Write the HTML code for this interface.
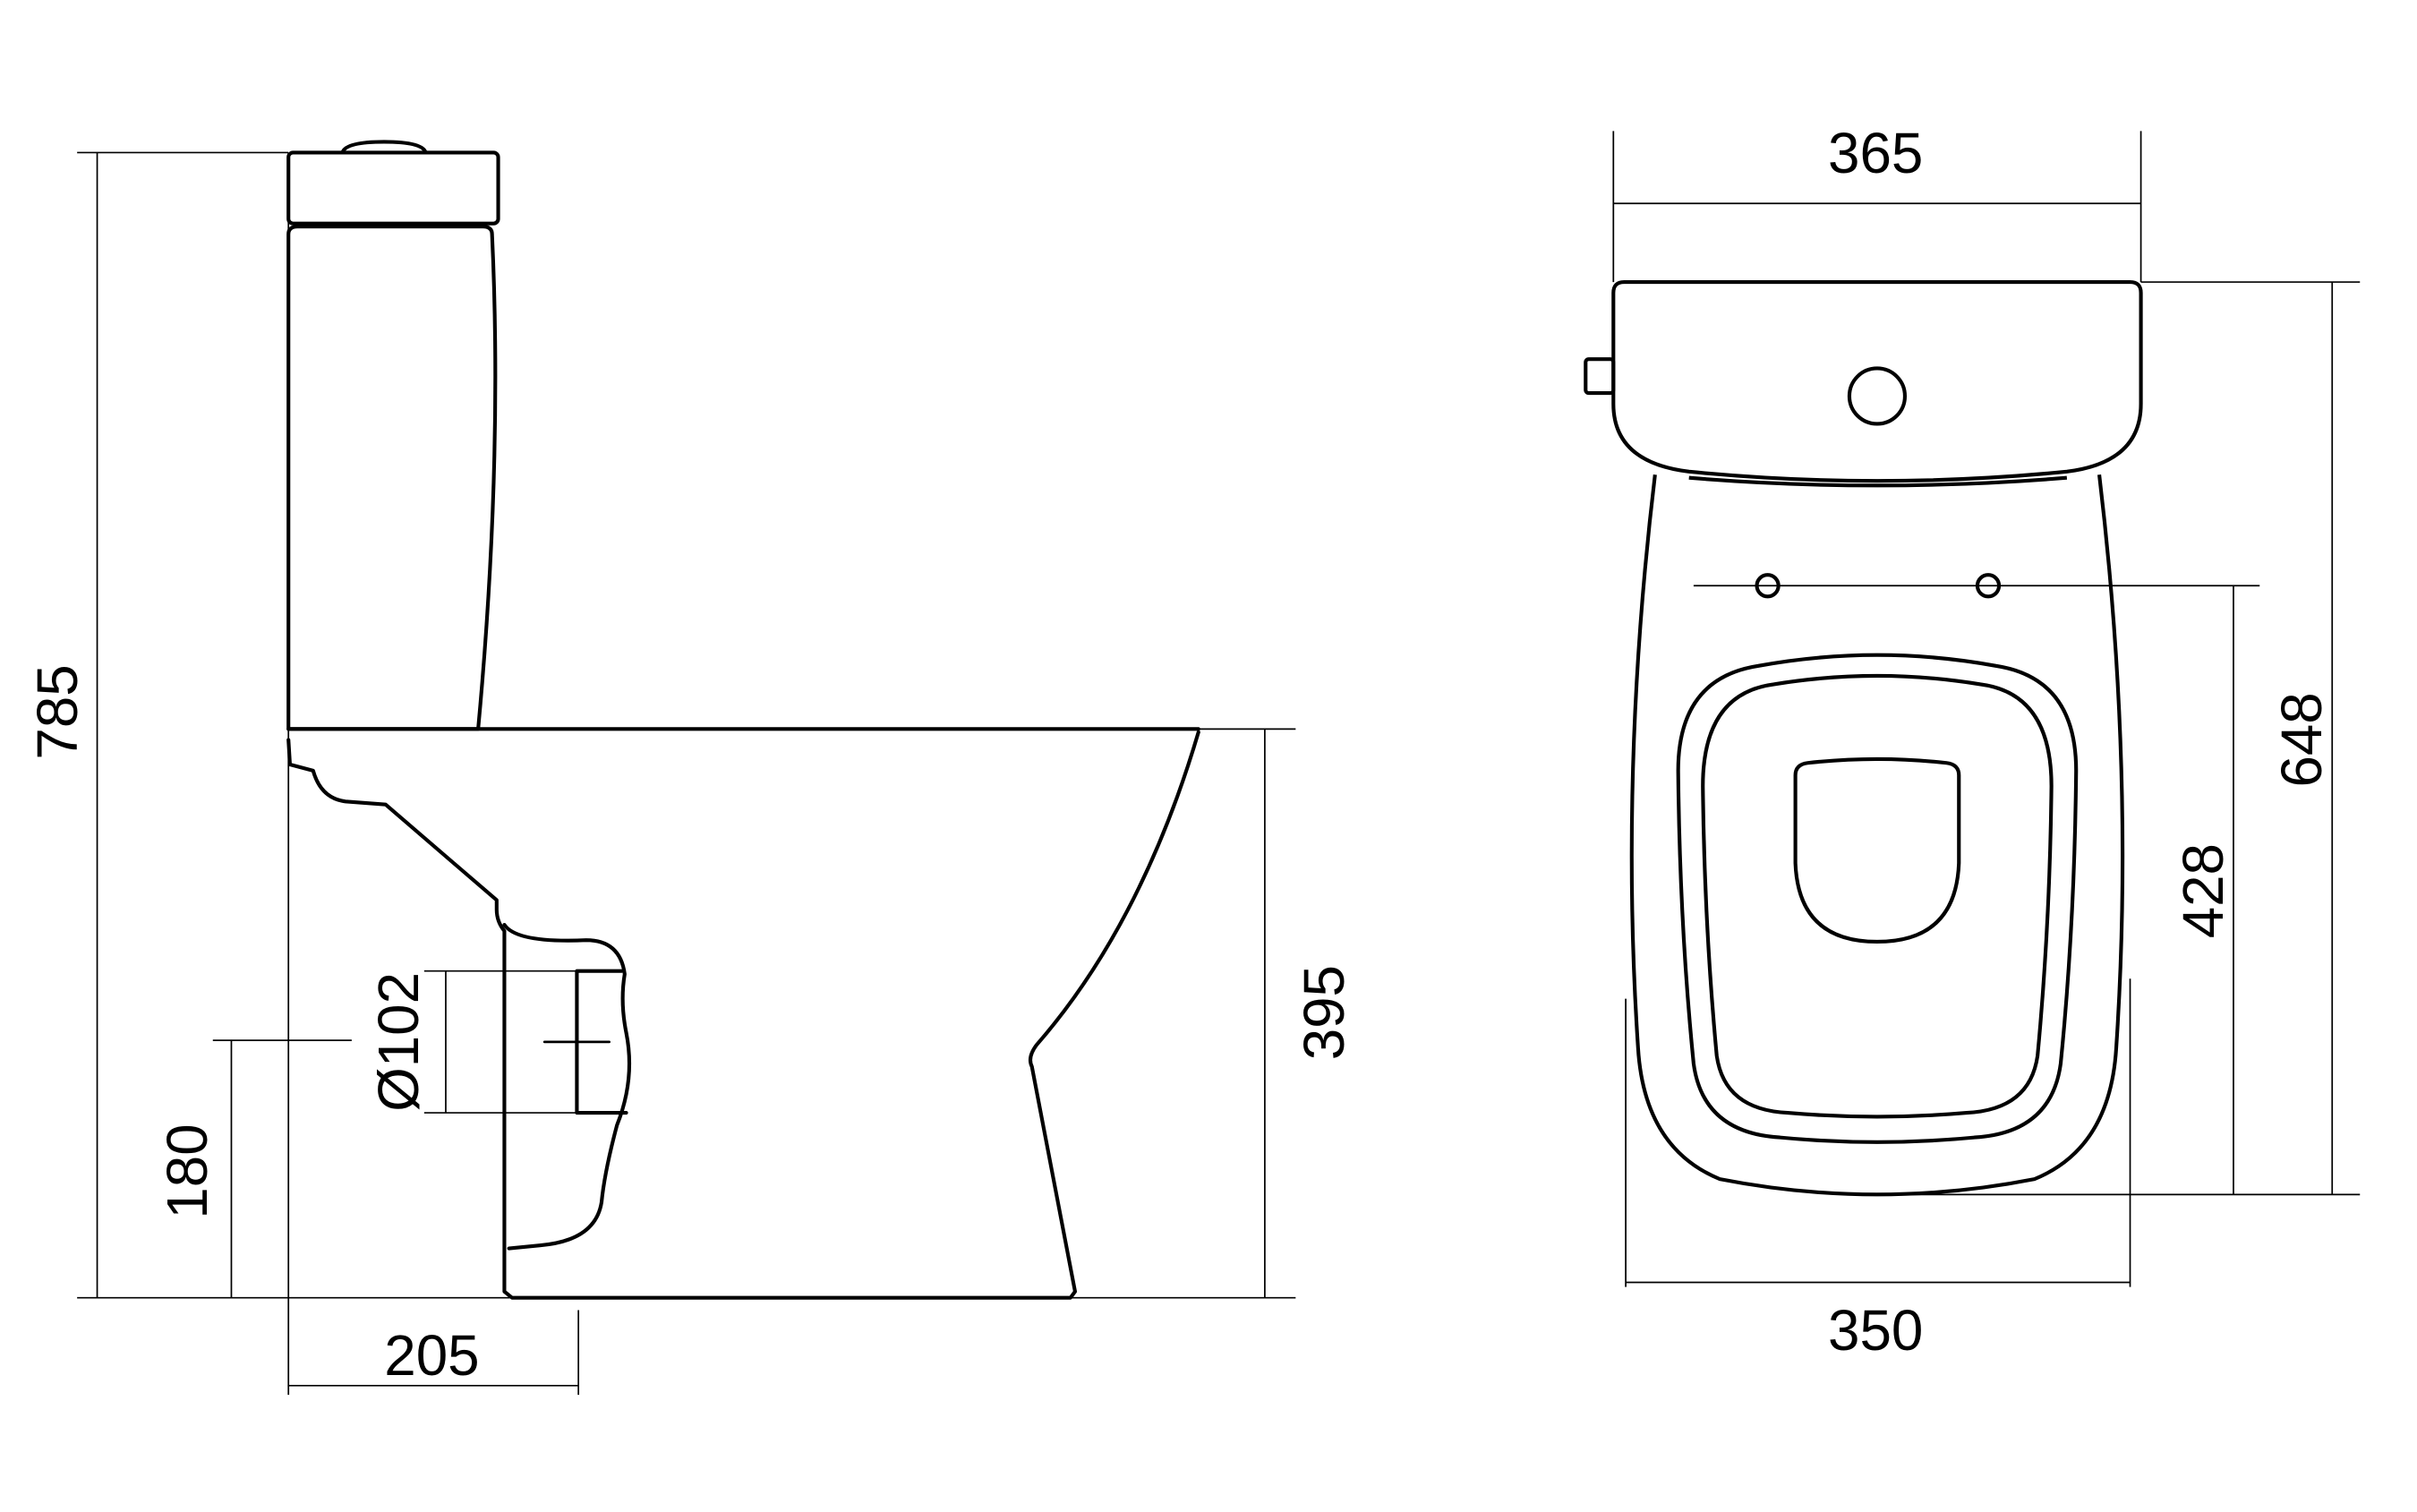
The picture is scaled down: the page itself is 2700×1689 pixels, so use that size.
<!DOCTYPE html>
<html><head><meta charset="utf-8"><style>
html,body{margin:0;padding:0;background:#fff;}
svg{display:block;}
text{font-family:"Liberation Sans","DejaVu Sans",sans-serif;font-size:37px;fill:#000;}
</style></head><body>
<svg width="2700" height="1689" viewBox="0 0 1567 981" preserveAspectRatio="none" xmlns="http://www.w3.org/2000/svg">
<g fill="none" stroke="#000" stroke-width="2.4" stroke-linejoin="round" stroke-linecap="round">
<path d="M222,99 Q224,92 249,92 Q274,92 276,99"/>
<rect x="187" y="99" width="136" height="46" rx="3"/>
<path d="M187,473 L187,152 Q187,147 193,147 L313,147 Q319,147 319,152 Q326,300 310,473 Z"/>
<path d="M187,473 L777,473"/>
<path d="M777,475 Q740,600 672,678 Q666,686 669,692 L697,838 L694,842 L332,842 L327,838 L327,604 Q322,598 322,590 L322,584 L250,522 L224,520 Q208,518 203,500 L188,496 L187,480"/>
<path d="M327,600 Q335,612 380,610 Q402,610 405,632 Q402,650 406,670 Q412,700 400,730 Q392,760 390,780 Q386,805 350,808 L330,810"/>
<path d="M374,630 L403,630 M374,630 L374,722 L406,722"/>
<path d="M353,676 L395,676 M374,662 L374,692" stroke-width="1.6"/>
</g>
<g fill="none" stroke="#000" stroke-width="1">
<path d="M50,99 L187,99 M63,99 L63,842 M50,842 L840,842 M187,99 L187,905"/>
<path d="M138,675 L228,675 M150,675 L150,842"/>
<path d="M275,630 L374,630 M275,722 L374,722 M289,630 L289,722"/>
<path d="M187,899 L375,899 M375,850 L375,905"/>
<path d="M777,473 L840,473 M820,473 L820,842"/>
<path d="M1046,85 L1046,183 M1388,85 L1388,183 M1046,132 L1388,132"/>
<path d="M1388,183 L1530,183 M1512,183 L1512,775 M1217,775 L1530,775"/>
<path d="M1098,380 L1465,380 M1448,380 L1448,775"/>
<path d="M1054,648 L1054,835 M1381,635 L1381,835 M1054,832 L1381,832"/>
</g>
<g fill="none" stroke="#000" stroke-width="2.4" stroke-linejoin="round">
<path d="M1046,190 Q1046,183 1053,183 L1381,183 Q1388,183 1388,190 L1388,262 Q1388,300 1340,306 Q1217,318 1095,306 Q1046,300 1046,262 Z"/>
<rect x="1028" y="233" width="18" height="22" rx="2"/>
<circle cx="1217" cy="257" r="18"/>
<path d="M1095,310 Q1217,320 1340,310"/>
<path d="M1073,308 Q1050,500 1062,680 Q1066,745 1115,765 Q1217,785 1319,765 Q1368,745 1372,680 Q1384,500 1361,308"/>
<path d="M1088,500 Q1088,440 1140,432 Q1217,418 1294,432 Q1346,440 1346,500 Q1345,600 1336,690 Q1330,735 1280,738 Q1217,744 1154,738 Q1104,735 1098,690 Q1089,600 1088,500 Z"/>
<path d="M1104,510 Q1104,450 1150,444 Q1217,433 1284,444 Q1330,450 1330,510 Q1329,600 1321,685 Q1316,720 1275,722 Q1217,727 1159,722 Q1118,720 1113,685 Q1105,600 1104,510 Z"/>
<path d="M1164,503 Q1164,496 1172,495 Q1217,490 1262,495 Q1270,496 1270,503 L1270,560 Q1268,611 1217,611 Q1166,611 1164,560 Z"/>
<circle cx="1146" cy="380" r="7"/>
<circle cx="1289" cy="380" r="7"/>
</g>
<text x="0" y="0" text-anchor="middle" transform="translate(50,462) rotate(-90)">785</text>
<text x="0" y="0" text-anchor="middle" transform="translate(134,760) rotate(-90)">180</text>
<text x="0" y="0" text-anchor="middle" transform="translate(271,676) rotate(-90)">Ø102</text>
<text x="0" y="0" text-anchor="middle" transform="translate(871,657) rotate(-90)">395</text>
<text x="280" y="892" text-anchor="middle">205</text>
<text x="1216" y="112" text-anchor="middle">365</text>
<text x="1216" y="876" text-anchor="middle">350</text>
<text x="0" y="0" text-anchor="middle" transform="translate(1505,480) rotate(-90)">648</text>
<text x="0" y="0" text-anchor="middle" transform="translate(1441,578) rotate(-90)">428</text>
</svg>
</body></html>
